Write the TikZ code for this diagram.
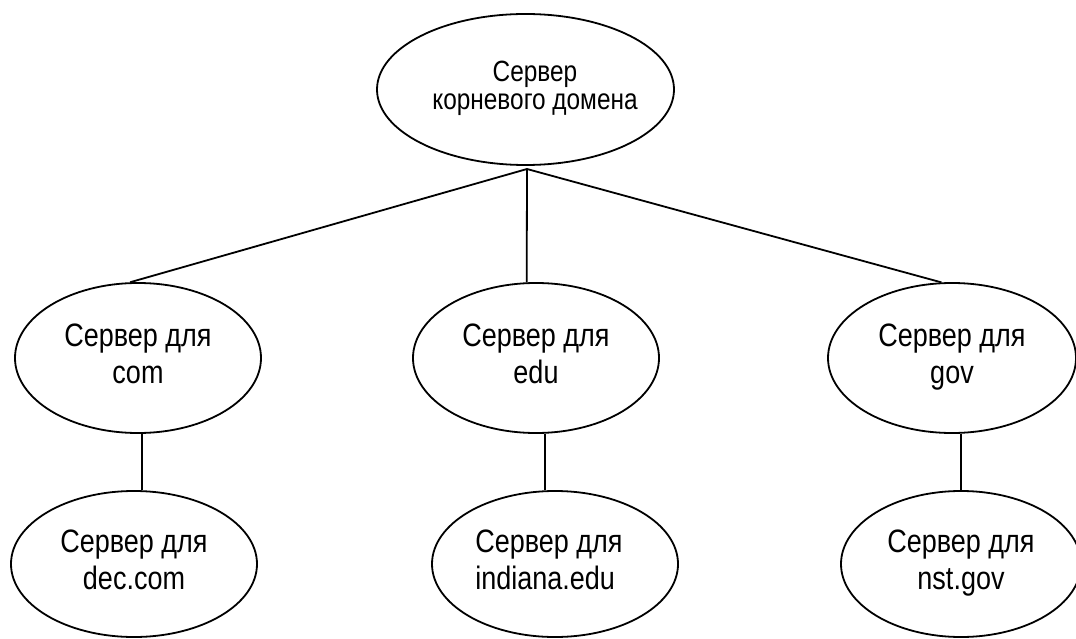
\documentclass[tikz,border=0pt]{standalone}
\usepackage{fontspec}
\setmainfont{Liberation Sans}
\usetikzlibrary{shapes.geometric}
% label: zero-width box, horizontal shift #1, vertical shift #2, tall glyphs
\newcommand\srvtext[3]{\makebox[0pt]{\hspace*{#1}\raisebox{#2}{\scalebox{1}[1.2]{#3}}}}
\begin{document}
\begin{tikzpicture}[x=1pt,y=-1pt,
  srv/.style={ellipse, draw, line width=1.8pt, inner sep=0pt,
    minimum width=246pt, minimum height=150pt,
    font=\fontsize{27}{30.6}\selectfont},
  link/.style={line width=1.8pt}]
\fill[white] (0,0) rectangle (1076,639);
\clip (0,0) rectangle (1076,639);

% root server
\node[srv, minimum width=297pt, minimum height=151pt,
  font=\fontsize{24.4}{23.3}\selectfont] (root) at (525.5,89.5)
  {\srvtext{19pt}{1pt}{\begin{tabular}{@{}c@{}}Сервер\\корневого домена\end{tabular}}};

% top-level domain servers
\node[srv] (com) at (138,358)
  {\srvtext{0pt}{-4pt}{\begin{tabular}{@{}c@{}}Сервер для\\com\end{tabular}}};
\node[srv] (edu) at (536,358)
  {\srvtext{0pt}{-4pt}{\begin{tabular}{@{}c@{}}Сервер для\\edu\end{tabular}}};
\node[srv, minimum width=248pt] (gov) at (952,358)
  {\srvtext{0pt}{-4pt}{\begin{tabular}{@{}c@{}}Сервер для\\gov\end{tabular}}};

% second-level servers
\node[srv, minimum height=146pt] (dec) at (134,564)
  {\srvtext{0pt}{-4pt}{\begin{tabular}{@{}c@{}}Сервер для\\dec.com\end{tabular}}};
\node[srv, minimum height=146pt] (ind) at (555,564)
  {\srvtext{-12pt}{-4pt}{\begin{tabular}{@{}l@{}}Сервер для\\indiana.edu\end{tabular}}};
\node[srv, minimum width=240pt, minimum height=146pt] (nst) at (961,564)
  {\srvtext{0pt}{-4pt}{\begin{tabular}{@{}c@{}}Сервер для\\nst.gov\end{tabular}}};

% branching from the root
\coordinate (hub) at (527,169);
\draw[link] (hub) -- (com.96);
\draw[link] (hub) -- (edu.97);
\draw[link] (hub) -- (gov.98);

% vertical links to second level
\draw[link] (com.-87) -- (com.-87 |- dec.north);
\draw[link] (edu.-83) -- (edu.-83 |- ind.north);
\draw[link] (gov.-83) -- (gov.-83 |- nst.north);
\end{tikzpicture}
\end{document}
